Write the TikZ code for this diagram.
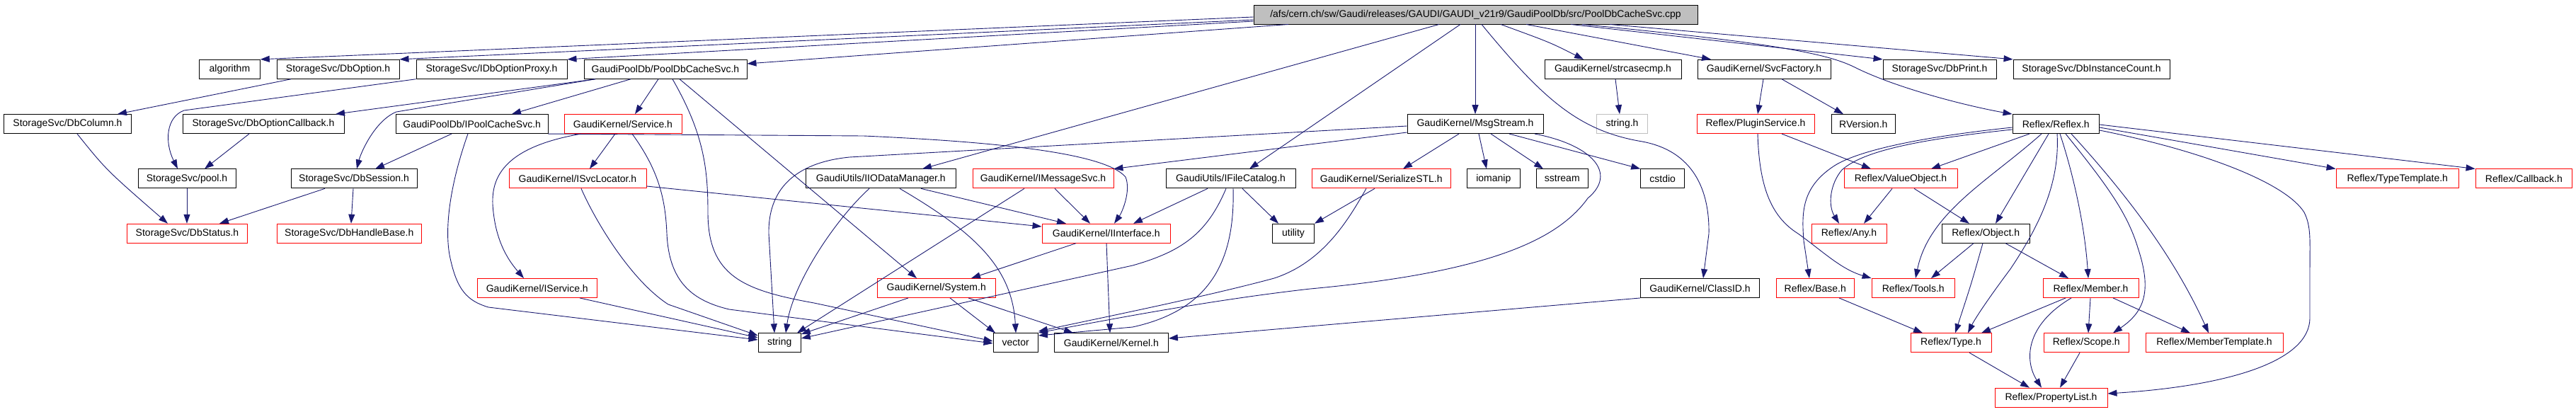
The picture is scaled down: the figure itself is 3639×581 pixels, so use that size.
\documentclass[tikz,border=0pt]{standalone}
\usepackage{fontspec}
\setmainfont{Liberation Sans}
\usetikzlibrary{arrows.meta}
\definecolor{mblue}{RGB}{25,25,112}
\definecolor{lgrey}{RGB}{191,191,191}
\newcommand\mkbox[6]{%
  \pgfmathsetmacro\mkW{#4-#3}%
  \pgfmathsetmacro\mkX{(#3+#4)/2}%
  \pgfmathsetmacro\mkY{20.5+77.3*#5}%
  \node[#1, minimum width=\mkW pt] (#2) at (\mkX,\mkY) {#6};}
\begin{document}
\begin{tikzpicture}[x=1pt,y=-1pt,
  box/.style={draw=black, line width=0.9pt, minimum height=27pt, inner sep=0pt,
    font=\fontsize{14}{16}\selectfont, text=black},
  rbox/.style={box, draw=red},
  gbox/.style={box, draw=lgrey},
  rootbox/.style={box, fill=lgrey},
  dep/.style={draw=mblue, line width=0.9pt, -{Triangle[length=13pt,width=9pt]}}]
\useasboundingbox (0,0) rectangle (3639,581);
% row 0
\mkbox{rootbox}{root}{1771}{2398}{0}{/afs/cern.ch/sw/Gaudi/releases/GAUDI/GAUDI\_v21r9/GaudiPoolDb/src/PoolDbCacheSvc.cpp}
% row 1
\mkbox{box}{algorithm}{281.5}{367.3}{1}{algorithm}
\mkbox{box}{dboption}{391}{564}{1}{StorageSvc/DbOption.h}
\mkbox{box}{idboptionproxy}{588}{801}{1}{StorageSvc/IDbOptionProxy.h}
\mkbox{box}{pdcs}{825}{1055}{1}{GaudiPoolDb/PoolDbCacheSvc.h}
\mkbox{box}{strcasecmp}{2182}{2375}{1}{GaudiKernel/strcasecmp.h}
\mkbox{box}{svcfactory}{2398}{2586}{1}{GaudiKernel/SvcFactory.h}
\mkbox{box}{dbprint}{2660}{2820}{1}{StorageSvc/DbPrint.h}
\mkbox{box}{dbinstancecount}{2844}{3065}{1}{StorageSvc/DbInstanceCount.h}
% row 2
\mkbox{box}{dbcolumn}{5.5}{185.4}{2}{StorageSvc/DbColumn.h}
\mkbox{box}{dboptioncallback}{258}{486}{2}{StorageSvc/DbOptionCallback.h}
\mkbox{box}{ipoolcachesvc}{559.5}{774}{2}{GaudiPoolDb/IPoolCacheSvc.h}
\mkbox{rbox}{service}{797}{963}{2}{GaudiKernel/Service.h}
\mkbox{box}{msgstream}{1988}{2180}{2}{GaudiKernel/MsgStream.h}
\mkbox{gbox}{stringh}{2255.5}{2327.5}{2}{string.h}
\mkbox{rbox}{pluginservice}{2397}{2563}{2}{Reflex/PluginService.h}
\mkbox{box}{rversion}{2587}{2677.6}{2}{RVersion.h}
\mkbox{box}{reflexh}{2843}{2965.5}{2}{Reflex/Reflex.h}
% row 3
\mkbox{box}{pool}{195}{333}{3}{StorageSvc/pool.h}
\mkbox{box}{dbsession}{411}{589}{3}{StorageSvc/DbSession.h}
\mkbox{rbox}{isvclocator}{719}{913}{3}{GaudiKernel/ISvcLocator.h}
\mkbox{box}{iiodatamanager}{1138.6}{1350}{3}{GaudiUtils/IIODataManager.h}
\mkbox{rbox}{imessagesvc}{1374}{1573}{3}{GaudiKernel/IMessageSvc.h}
\mkbox{box}{ifilecatalog}{1647}{1830}{3}{GaudiUtils/IFileCatalog.h}
\mkbox{rbox}{serializestl}{1853}{2049.5}{3}{GaudiKernel/SerializeSTL.h}
\mkbox{box}{iomanip}{2072}{2147.6}{3}{iomanip}
\mkbox{box}{sstream}{2170.5}{2243}{3}{sstream}
\mkbox{box}{cstdio}{2317.6}{2379.7}{3}{cstdio}
\mkbox{rbox}{valueobject}{2605}{2765}{3}{Reflex/ValueObject.h}
\mkbox{rbox}{typetemplate}{3300}{3473.5}{3}{Reflex/TypeTemplate.h}
\mkbox{rbox}{callback}{3497}{3633.7}{3}{Reflex/Callback.h}
% row 4
\mkbox{rbox}{dbstatus}{179.5}{349.5}{4}{StorageSvc/DbStatus.h}
\mkbox{rbox}{dbhandlebase}{391}{595.5}{4}{StorageSvc/DbHandleBase.h}
\mkbox{rbox}{iinterface}{1472}{1653.5}{4}{GaudiKernel/IInterface.h}
\mkbox{box}{utility}{1797.5}{1856.5}{4}{utility}
\mkbox{rbox}{any}{2559}{2665}{4}{Reflex/Any.h}
\mkbox{box}{object}{2743}{2867.4}{4}{Reflex/Object.h}
% row 5
\mkbox{rbox}{iservice}{674}{843.6}{5}{GaudiKernel/IService.h}
\mkbox{rbox}{system}{1239.5}{1406}{5}{GaudiKernel/System.h}
\mkbox{box}{classid}{2317.6}{2485.4}{5}{GaudiKernel/ClassID.h}
\mkbox{rbox}{base}{2509.5}{2619}{5}{Reflex/Base.h}
\mkbox{rbox}{tools}{2644}{2761.4}{5}{Reflex/Tools.h}
\mkbox{rbox}{member}{2886}{3021}{5}{Reflex/Member.h}
% row 6
\mkbox{box}{string}{1071}{1131.4}{6}{string}
\mkbox{box}{vector}{1403}{1466.5}{6}{vector}
\mkbox{box}{kernel}{1489.4}{1650.4}{6}{GaudiKernel/Kernel.h}
\mkbox{rbox}{type}{2699}{2813}{6}{Reflex/Type.h}
\mkbox{rbox}{scope}{2887.5}{3007}{6}{Reflex/Scope.h}
\mkbox{rbox}{membertemplate}{3031}{3225}{6}{Reflex/MemberTemplate.h}
% row 7
\mkbox{rbox}{propertylist}{2818}{2977}{7}{Reflex/PropertyList.h}

% ---- edges from root
\draw[dep] (root.west |- 0,24) -- (algorithm.north east);
\draw[dep] (root.west |- 0,28) -- (dboption.north east);
\draw[dep] (root.west |- 0,30) -- (idboptionproxy.north east);
\draw[dep] (1820,0 |- root.south) -- (pdcs.east |- 0,90);
\draw[dep] (2033,0 |- root.south) -- (1303,0 |- iiodatamanager.north);
\draw[dep] (2063,0 |- root.south) -- (1765,0 |- ifilecatalog.north);
\draw[dep] (2084,0 |- root.south) -- (2084,0 |- msgstream.north);
\draw[dep] (2093,0 |- root.south) .. controls (2180,140) and (2230,185) .. (2320,200)
  .. controls (2400,215) and (2415,280) .. (2414,330) -- (2406,0 |- classid.north);
\draw[dep] (2120,0 |- root.south) .. controls (2190,60) .. (2237,0 |- strcasecmp.north);
\draw[dep] (2156,0 |- root.south) -- (2417,0 |- svcfactory.north);
\draw[dep] (2219,0 |- root.south) -- (dbprint.north west);
\draw[dep] (2274,0 |- root.south) -- (dbinstancecount.north west);
\draw[dep] (2235,0 |- root.south) .. controls (2500,60) and (2580,75) .. (2620,95)
  .. controls (2680,125) and (2780,150) .. (reflexh.north west);
% ---- StorageSvc part
\draw[dep] (411,0 |- dboption.south) -- (166,0 |- dbcolumn.north);
\draw[dep] (idboptionproxy.south west) -- (260,156) .. controls (235,165) and (232,200) .. (251,0 |- pool.north);
\draw[dep] (841,0 |- pdcs.south) -- (474,0 |- dboptioncallback.north);
\draw[dep] (841,0 |- pdcs.south) -- (560,158) .. controls (530,170) and (510,215) .. (504,0 |- dbsession.north);
\draw[dep] (891,0 |- pdcs.south) -- (723,0 |- ipoolcachesvc.north);
\draw[dep] (930,0 |- pdcs.south) -- (897,0 |- service.north);
\draw[dep] (960,0 |- pdcs.south) -- (1295,0 |- system.north);
\draw[dep] (950,0 |- pdcs.south) .. controls (995,190) and (1000,240) .. (1000,300)
  .. controls (1000,390) and (1050,410) .. (1150,428) -- (vector.west |- 0,482);
\draw[dep] (109,0 |- dbcolumn.south) .. controls (150,240) .. (237,0 |- dbstatus.north);
\draw[dep] (264,0 |- pool.south) -- (264,0 |- dbstatus.north);
\draw[dep] (352,0 |- dboptioncallback.south) -- (289,0 |- pool.north);
\draw[dep] (459,0 |- dbsession.south) -- (310,0 |- dbstatus.north);
\draw[dep] (499,0 |- dbsession.south) -- (496,0 |- dbhandlebase.north);
\draw[dep] (638,0 |- ipoolcachesvc.south) .. controls (590,212) .. (530,0 |- dbsession.north);
\draw[dep] (661,0 |- ipoolcachesvc.south) .. controls (636,260) and (628,320) .. (635,360)
  .. controls (645,410) and (660,425) .. (690,434) -- (string.west |- 0,480);
\draw[dep] (ipoolcachesvc.south east) -- (1220,192) .. controls (1400,200) and (1560,215) .. (1590,250)
  .. controls (1598,270) and (1585,300) .. (1574,0 |- iinterface.north);
% ---- GaudiKernel part
\draw[dep] (821,0 |- service.south) .. controls (700,210) and (692,260) .. (697,300)
  .. controls (702,345) and (720,370) .. (740,0 |- iservice.north);
\draw[dep] (869,0 |- service.south) -- (833,0 |- isvclocator.north);
\draw[dep] (893,0 |- service.south) .. controls (930,240) and (940,280) .. (942,330)
  .. controls (945,400) and (980,425) .. (1030,437) -- (vector.west |- 0,485);
\draw[dep] (isvclocator.east |- 0,263) -- (iinterface.west |- 0,320);
\draw[dep] (821,0 |- isvclocator.south) .. controls (840,310) and (890,395) .. (944,430) -- (string.west |- 0,474);
\draw[dep] (1228,0 |- iiodatamanager.south) .. controls (1180,310) and (1120,400) .. (1110,0 |- string.north);
\draw[dep] (1271,0 |- iiodatamanager.south) .. controls (1380,330) and (1430,380) .. (1435,0 |- vector.north);
\draw[dep] (1301,0 |- iiodatamanager.south) -- (1506,0 |- iinterface.north);
\draw[dep] (1490,0 |- imessagesvc.south) -- (1540,0 |- iinterface.north);
\draw[dep] (1447,0 |- imessagesvc.south) -- (1126,0 |- string.north);
\draw[dep] (1706,0 |- ifilecatalog.south) -- (1601,0 |- iinterface.north);
\draw[dep] (1755,0 |- ifilecatalog.south) -- (1806,0 |- utility.north);
\draw[dep] (1732,0 |- ifilecatalog.south) .. controls (1705,330) and (1670,355) .. (1600,375) -- (string.east |- 0,478);
\draw[dep] (1742,0 |- ifilecatalog.south) .. controls (1745,380) and (1700,440) .. (1600,462) -- (vector.east |- 0,474);
\draw[dep] (1520,0 |- iinterface.south) -- (1372,0 |- system.north);
\draw[dep] (1563,0 |- iinterface.south) -- (1568,0 |- kernel.north);
\draw[dep] (1283,0 |- system.south) -- (string.east |- 0,472);
\draw[dep] (1342,0 |- system.south) -- (1406,0 |- vector.north);
\draw[dep] (1368,0 |- system.south) -- (1516,0 |- kernel.north);
\draw[dep] (819,0 |- iservice.south) -- (string.west |- 0,477);
\draw[dep] (classid.south west) -- (kernel.east |- 0,478);
\draw[dep] (msgstream.west |- 0,187) -- (imessagesvc.north east);
\draw[dep] (msgstream.west |- 0,178) -- (1200,222) .. controls (1120,230) and (1085,270) .. (1086,330) -- (1094,0 |- string.north);
\draw[dep] (2061,0 |- msgstream.south) -- (1982,0 |- serializestl.north);
\draw[dep] (2089,0 |- msgstream.south) -- (2100,0 |- iomanip.north);
\draw[dep] (2106,0 |- msgstream.south) -- (2180,0 |- sstream.north);
\draw[dep] (2132,0 |- msgstream.south) -- (cstdio.north west);
\draw[dep] (2168,0 |- msgstream.south) .. controls (2250,205) and (2285,245) .. (2243,280)
  .. controls (2200,340) and (2100,385) .. (1851,408) .. controls (1700,425) and (1550,455) .. (vector.east |- 0,470);
\draw[dep] (1942,0 |- serializestl.south) -- (utility.north east);
\draw[dep] (1930,0 |- serializestl.south) .. controls (1905,310) and (1870,370) .. (1800,393)
  .. controls (1700,420) and (1550,450) .. (vector.east |- 0,468);
% ---- Reflex part
\draw[dep] (2282,0 |- strcasecmp.south) -- (2288,0 |- stringh.north);
\draw[dep] (2491,0 |- svcfactory.south) -- (2483,0 |- pluginservice.north);
\draw[dep] (2517,0 |- svcfactory.south) -- (2604,0 |- rversion.north);
\draw[dep] (2517,0 |- pluginservice.south) -- (2643,0 |- valueobject.north);
\draw[dep] (2483,0 |- pluginservice.south) .. controls (2485,260) and (2500,305) .. (2540,330)
  .. controls (2575,355) and (2600,380) .. (tools.north west);
\draw[dep] (2867,0 |- reflexh.south) -- (2728,0 |- valueobject.north);
\draw[dep] (reflexh.west |- 0,180) .. controls (2700,195) and (2620,215) .. (2590,235)
  .. controls (2545,265) and (2545,300) .. (2548,340) -- (2556,0 |- base.north);
\draw[dep] (reflexh.west |- 0,183) .. controls (2700,198) and (2630,215) .. (2602,240)
  .. controls (2585,260) and (2582,290) .. (2598,0 |- any.north);
\draw[dep] (2884,0 |- reflexh.south) .. controls (2810,255) and (2725,300) .. (2706,0 |- tools.north);
\draw[dep] (2894,0 |- reflexh.south) -- (2819,0 |- object.north);
\draw[dep] (2906,0 |- reflexh.south) .. controls (2910,260) and (2880,320) .. (2840,380)
  .. controls (2810,420) and (2790,450) .. (2780,0 |- type.north);
\draw[dep] (2910,0 |- reflexh.south) .. controls (2930,250) and (2945,320) .. (2950,0 |- member.north);
\draw[dep] (2918,0 |- reflexh.south) .. controls (2975,260) and (3005,300) .. (3020,350)
  .. controls (3040,410) and (3030,440) .. (2985,0 |- scope.north);
\draw[dep] (2926,0 |- reflexh.south) .. controls (3000,270) and (3070,360) .. (3120,0 |- membertemplate.north);
\draw[dep] (reflexh.east |- 0,184) .. controls (3120,215) and (3230,260) .. (3255,300)
  .. controls (3265,320) and (3263,340) .. (3263,380) -- (3263,450)
  .. controls (3262,510) and (3150,545) .. (propertylist.east |- 0,556);
\draw[dep] (reflexh.east |- 0,180) -- (typetemplate.north west);
\draw[dep] (reflexh.east |- 0,176) -- (callback.north west);
\draw[dep] (2673,0 |- valueobject.south) -- (2633,0 |- any.north);
\draw[dep] (2704,0 |- valueobject.south) -- (2782,0 |- object.north);
\draw[dep] (2788,0 |- object.south) -- (2728,0 |- tools.north);
\draw[dep] (2801,0 |- object.south) .. controls (2785,400) .. (2762,0 |- type.north);
\draw[dep] (2833,0 |- object.south) -- (2922,0 |- member.north);
\draw[dep] (2598,0 |- base.south) -- (2716,0 |- type.north);
\draw[dep] (2918,0 |- member.south) -- (2799,0 |- type.north);
\draw[dep] (2953,0 |- member.south) -- (2950,0 |- scope.north);
\draw[dep] (2926,0 |- member.south) .. controls (2860,460) and (2860,510) .. (2884,0 |- propertylist.north);
\draw[dep] (2985,0 |- member.south) -- (3094,0 |- membertemplate.north);
\draw[dep] (2782,0 |- type.south) -- (2867,0 |- propertylist.north);
\draw[dep] (2938,0 |- scope.south) -- (2910,0 |- propertylist.north);
\end{tikzpicture}
\end{document}
